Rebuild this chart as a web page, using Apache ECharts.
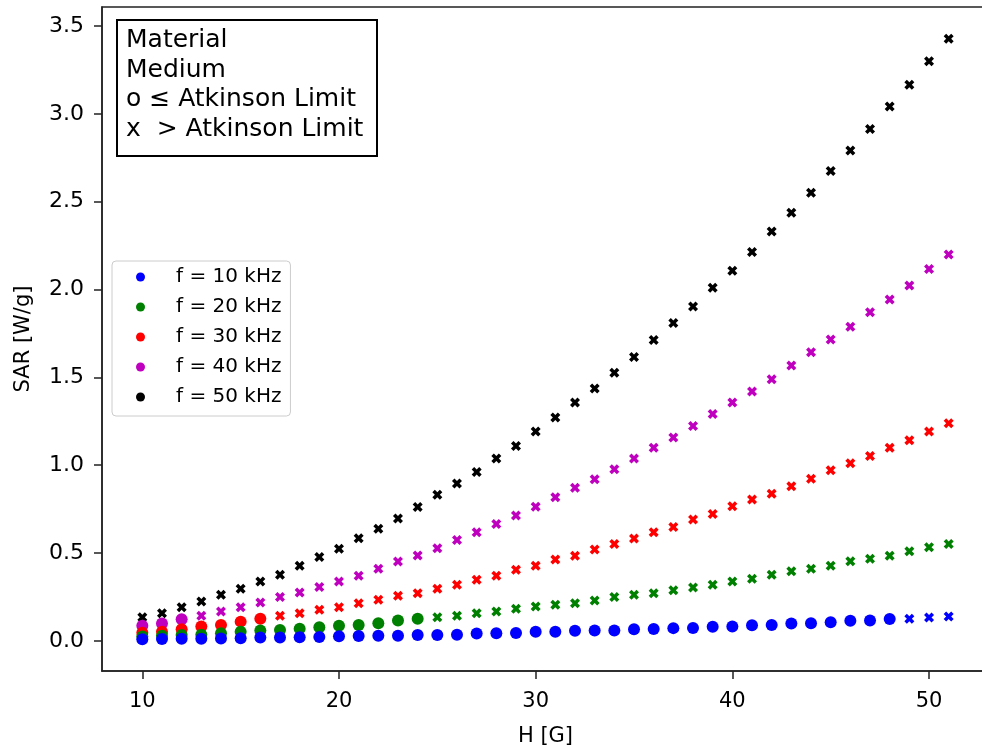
<!DOCTYPE html>
<html>
<head>
<meta charset="utf-8">
<script src="https://cdn.jsdelivr.net/npm/echarts@6/dist/echarts.min.js"></script>
<style>
  html, body { margin: 0; padding: 0; background: #fff; }
  #main { width: 982px; height: 749px; }
</style>
</head>
<body>
<div id="main"></div>
<script>
// field strength H [G]
var hValues = [10, 11, 12, 13, 14, 15, 16, 17, 18, 19, 20, 21, 22, 23, 24, 25, 26, 27, 28, 29, 30,
               31, 32, 33, 34, 35, 36, 37, 38, 39, 40, 41, 42, 43, 44, 45, 46, 47, 48, 49, 50, 51];

// SAR [W/g] per frequency
var sar10 = [0.010, 0.011, 0.012, 0.013, 0.014, 0.016, 0.020, 0.020, 0.021, 0.022, 0.027, 0.028, 0.029, 0.029,
             0.034, 0.034, 0.035, 0.043, 0.044, 0.045, 0.052, 0.053, 0.058, 0.059, 0.060, 0.067, 0.068, 0.073,
             0.074, 0.081, 0.082, 0.090, 0.091, 0.100, 0.101, 0.107, 0.115, 0.116, 0.125, 0.127, 0.133, 0.139];
var sar20 = [0.025, 0.029, 0.034, 0.036, 0.044, 0.053, 0.059, 0.063, 0.069, 0.078, 0.086, 0.091, 0.101, 0.116,
             0.126, 0.135, 0.143, 0.158, 0.167, 0.183, 0.196, 0.206, 0.215, 0.230, 0.250, 0.263, 0.272, 0.289,
             0.304, 0.320, 0.339, 0.354, 0.377, 0.396, 0.411, 0.428, 0.453, 0.468, 0.485, 0.510, 0.533, 0.552];
var sar30 = [0.047, 0.053, 0.067, 0.082, 0.091, 0.110, 0.126, 0.143, 0.158, 0.177, 0.192, 0.215, 0.234, 0.257,
             0.272, 0.297, 0.320, 0.348, 0.371, 0.405, 0.428, 0.463, 0.485, 0.520, 0.552, 0.583, 0.619, 0.649,
             0.691, 0.723, 0.767, 0.805, 0.838, 0.881, 0.923, 0.971, 1.011, 1.053, 1.100, 1.142, 1.192, 1.239];
var sar40 = [0.086, 0.100, 0.124, 0.143, 0.167, 0.192, 0.219, 0.250, 0.276, 0.307, 0.339, 0.371, 0.411, 0.452,
             0.487, 0.527, 0.574, 0.619, 0.666, 0.714, 0.764, 0.818, 0.872, 0.920, 0.977, 1.038, 1.100, 1.158,
             1.224, 1.291, 1.357, 1.420, 1.490, 1.567, 1.643, 1.715, 1.788, 1.871, 1.943, 2.023, 2.117, 2.199];
var sar50 = [0.135, 0.158, 0.192, 0.225, 0.263, 0.297, 0.339, 0.377, 0.428, 0.478, 0.525, 0.584, 0.639, 0.697,
             0.763, 0.832, 0.896, 0.961, 1.038, 1.110, 1.192, 1.272, 1.357, 1.437, 1.527, 1.616, 1.713, 1.809,
             1.904, 2.010, 2.107, 2.214, 2.330, 2.437, 2.551, 2.675, 2.791, 2.913, 3.042, 3.166, 3.299, 3.428];

var seriesNames = ['f = 10 kHz', 'f = 20 kHz', 'f = 30 kHz', 'f = 40 kHz', 'f = 50 kHz'];
var seriesColors = ['#0000ff', '#008000', '#ff0000', '#bf00bf', '#000000'];
var seriesData = [sar10, sar20, sar30, sar40, sar50];
// last H still within the Atkinson limit (circle), above it -> cross
var atkinsonLastH = [48, 24, 16, 12, 9];

var xTicks = [10, 20, 30, 40, 50];
var yTicks = [0, 0.5, 1.0, 1.5, 2.0, 2.5, 3.0, 3.5];

var crossPath = 'path://M2.5 0L5 2.5L7.5 0L10 2.5L7.5 5L10 7.5L7.5 10L5 7.5L2.5 10L0 7.5L2.5 5L0 2.5Z';
var font = 'DejaVu Sans';

var chart = echarts.init(document.getElementById('main'));

var series = [];
// draw 50 kHz first so the low ones sit on top
for (var i = seriesData.length - 1; i >= 0; i--) {
    var below = [], above = [];
    for (var k = 0; k < hValues.length; k++) {
        if (hValues[k] <= atkinsonLastH[i]) below.push([hValues[k], seriesData[i][k]]);
        else above.push([hValues[k], seriesData[i][k]]);
    }
    series.push({
        name: seriesNames[i],
        type: 'scatter',
        symbol: 'circle',
        symbolSize: 12,
        itemStyle: { color: seriesColors[i], opacity: 1 },
        data: below
    });
    series.push({
        name: seriesNames[i],
        type: 'scatter',
        symbol: crossPath,
        symbolSize: 10,
        itemStyle: { color: seriesColors[i], opacity: 1 },
        data: above
    });
}

var option = {
    animation: false,
    backgroundColor: '#fff',
    grid: {
        left: 102, top: 7, width: 887, height: 664,
        outerBoundsMode: 'none',
        containLabel: false,
        show: true, borderColor: '#222', borderWidth: 1.5, backgroundColor: 'transparent'
    },
    xAxis: {
        type: 'value',
        min: 7.95, max: 53.05,
        name: 'H [G]',
        nameLocation: 'middle',
        nameGap: 55,
        nameTextStyle: { fontFamily: font, fontSize: 21, color: '#000' },
        axisLine: { onZero: false, lineStyle: { color: '#222', width: 1.5 } },
        axisTick: { show: true, length: 8, lineStyle: { color: '#222', width: 1.5 }, customValues: xTicks },
        axisLabel: {
            customValues: xTicks, margin: 20,
            fontFamily: font, fontSize: 21, color: '#000'
        },
        splitLine: { show: false }
    },
    yAxis: {
        type: 'value',
        min: -0.171, max: 3.608,
        name: 'SAR [W/g]',
        nameLocation: 'middle',
        nameGap: 68,
        nameTextStyle: { fontFamily: font, fontSize: 21, color: '#000' },
        axisLine: { show: true, onZero: false, lineStyle: { color: '#222', width: 1.5 } },
        axisTick: { show: true, length: 8, lineStyle: { color: '#222', width: 1.5 }, customValues: yTicks },
        axisLabel: {
            customValues: yTicks, margin: 18,
            fontFamily: font, fontSize: 22, color: '#000',
            formatter: function (v) { return v.toFixed(1); }
        },
        splitLine: { show: false }
    },
    legend: {
        orient: 'vertical',
        left: 112, top: 261,
        padding: [6, 9, 9, 24],
        itemGap: 10,
        itemWidth: 9,
        itemHeight: 20,
        backgroundColor: 'rgba(255,255,255,0.8)',
        borderColor: '#cccccc',
        borderWidth: 1,
        borderRadius: 4,
        selectedMode: false,
        textStyle: { fontFamily: font, fontSize: 20, color: '#000', lineHeight: 20, padding: [0, 0, 0, 26] },
        data: seriesNames.map(function (n) { return { name: n, icon: 'circle' }; })
    },
    graphic: [
        {
            type: 'rect',
            left: 116, top: 19,
            shape: { width: 260, height: 136 },
            style: { fill: '#fff', stroke: '#000', lineWidth: 2 },
            z: 100
        },
        {
            type: 'text',
            left: 126, top: 26,
            style: {
                text: 'Material\nMedium\no ≤ Atkinson Limit\nx  > Atkinson Limit',
                font: '25px "DejaVu Sans"',
                lineHeight: 29.5,
                fill: '#000'
            },
            z: 101
        }
    ],
    series: series
};

chart.setOption(option);
</script>
</body>
</html>
